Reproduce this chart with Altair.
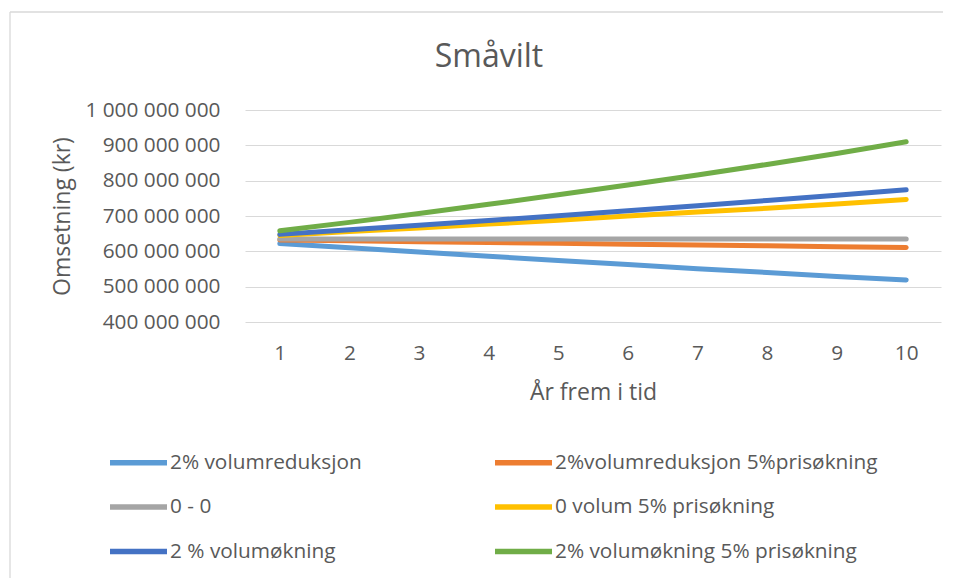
import altair as alt
import pandas as pd

years = [1, 2, 3, 4, 5, 6, 7, 8, 9, 10]

series_names = [
    "2% volumreduksjon",
    "2%volumreduksjon 5%prisøkning",
    "0 - 0",
    "0 volum 5% prisøkning",
    "2 % volumøkning",
    "2% volumøkning 5% prisøkning",
]
series_colors = ["#5B9BD5", "#ED7D31", "#A5A5A5", "#FFC000", "#4472C4", "#70AD47"]

# values in millions of kroner
vol_red = [622, 610, 598, 586, 574, 563, 551, 540, 529, 519]
vol_red_pris = [632, 630, 627, 625, 623, 620, 618, 616, 613, 611]
null_null = [635, 635, 635, 635, 635, 635, 635, 635, 635, 635]
pris = [645, 656, 666, 677, 688, 700, 711, 722, 734, 747]
vol_ok = [648, 661, 674, 687, 701, 715, 729, 744, 759, 774]
vol_ok_pris = [658, 682, 707, 733, 760, 788, 816, 846, 877, 910]

all_series = [vol_red, vol_red_pris, null_null, pris, vol_ok, vol_ok_pris]

rows = []
for name, vals in zip(series_names, all_series):
    for y, v in zip(years, vals):
        rows.append({"År": y, "Serie": name, "Omsetning": v * 1_000_000})
df = pd.DataFrame(rows)

# legend fills column by column: reorder so it reads row by row like the original
legend_order = [0, 2, 4, 1, 3, 5]
legend_domain = [series_names[i] for i in legend_order]
legend_range = [series_colors[i] for i in legend_order]

FONT = "Open Sans"
TXT = "#595959"

lines = alt.Chart(df).mark_line(strokeWidth=5, strokeCap="round", strokeJoin="round").encode(
    x=alt.X("År:O", title="År frem i tid",
            axis=alt.Axis(labelAngle=0, ticks=False, tickSize=0, domain=False, grid=False,
                          labelPadding=21, titlePadding=19)),
    y=alt.Y("Omsetning:Q", title="Omsetning (kr)",
            scale=alt.Scale(domain=[400_000_000, 1_000_000_000], nice=False, zero=False),
            axis=alt.Axis(values=[400_000_000, 500_000_000, 600_000_000, 700_000_000,
                                  800_000_000, 900_000_000, 1_000_000_000],
                          labelExpr="join(split(format(datum.value, ','), ','), ' ')",
                          ticks=False, tickSize=0, domain=False, grid=True,
                          gridColor="#D9D9D9", gridWidth=1.2,
                          labelPadding=25, titlePadding=10)),
    color=alt.Color("Serie:N", title=None,
                    scale=alt.Scale(domain=legend_domain, range=legend_range),
                    legend=alt.Legend(orient="none", legendX=-138, legendY=321, columns=2,
                                      symbolType="stroke", symbolSize=3249, symbolStrokeWidth=5.5,
                                      columnPadding=122, rowPadding=1.5, labelOffset=0,
                                      labelLimit=500)),
    order=alt.Order("År:O"),
)

# chart frame: top and left edges (the others fall outside the picture)
frame_top = alt.Chart(pd.DataFrame({"f": [0]})).mark_rule(color="#D9D9D9", strokeWidth=1.3).encode(
    x=alt.value(-235), x2=alt.value(698), y=alt.value(-98)
)
frame_left = alt.Chart(pd.DataFrame({"f": [0]})).mark_rule(color="#D9D9D9", strokeWidth=1.3).encode(
    x=alt.value(-235), y=alt.value(-98), y2=alt.value(468)
)

chart = alt.layer(frame_top, frame_left, lines).properties(
    width=696,
    height=212,
    title=alt.TitleParams("Småvilt", fontSize=32, font=FONT, color=TXT, fontWeight="normal",
                          anchor="middle", frame="group", dx=-104, offset=-63),
    autosize=alt.AutoSizeParams(type="none"),
    padding={"left": 237, "top": 102, "right": 4, "bottom": 259},
).configure_view(stroke=None).configure_axis(
    labelFont=FONT, labelFontSize=20.8, labelColor=TXT,
    titleFont=FONT, titleFontSize=23, titleColor=TXT, titleFontWeight="normal",
).configure_legend(
    labelFont=FONT, labelFontSize=20.8, labelColor=TXT,
)

chart.save("out.html", embed_options={"renderer": "svg", "actions": False})
